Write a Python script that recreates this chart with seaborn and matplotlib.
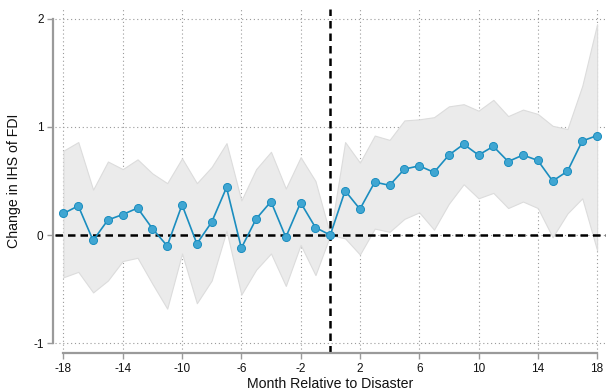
import numpy as np
import pandas as pd
import matplotlib
matplotlib.use("Agg")
import matplotlib.pyplot as plt
import seaborn as sns

# Event-study estimates: change in IHS of FDI by month relative to disaster
months = list(range(-18, 19))
coef = [0.20, 0.27, -0.05, 0.14, 0.19, 0.25, 0.06, -0.10, 0.28, -0.08,
        0.12, 0.44, -0.12, 0.15, 0.31, -0.02, 0.30, 0.07, 0.00,
        0.41, 0.24, 0.49, 0.46, 0.61, 0.64, 0.58, 0.74, 0.84, 0.74,
        0.82, 0.68, 0.74, 0.69, 0.50, 0.59, 0.87, 0.92]
ci_upper = [0.78, 0.86, 0.42, 0.68, 0.61, 0.70, 0.57, 0.48, 0.71, 0.48,
            0.63, 0.85, 0.32, 0.61, 0.77, 0.43, 0.72, 0.50, 0.00,
            0.86, 0.67, 0.92, 0.88, 1.06, 1.07, 1.09, 1.19, 1.21, 1.15,
            1.25, 1.10, 1.16, 1.12, 1.01, 0.98, 1.38, 1.95]
ci_lower = [-0.39, -0.34, -0.53, -0.42, -0.24, -0.21, -0.45, -0.68, -0.17, -0.63,
            -0.42, 0.04, -0.55, -0.32, -0.17, -0.47, -0.09, -0.37, 0.00,
            -0.03, -0.18, 0.06, 0.03, 0.15, 0.21, 0.05, 0.29, 0.47, 0.34,
            0.39, 0.25, 0.31, 0.25, -0.02, 0.20, 0.34, -0.14]
x_ticks = [-18, -14, -10, -6, -2, 2, 6, 10, 14, 18]
y_ticks = [-1, 0, 1, 2]

df = pd.DataFrame({"month": months, "coef": coef,
                   "lo": ci_lower, "hi": ci_upper})

sns.set_style("white")
plt.rcParams["font.family"] = ["Liberation Sans", "DejaVu Sans"]
plt.rcParams["axes.unicode_minus"] = False

fig = plt.figure(figsize=(6.06, 3.91), dpi=100)
ax = fig.add_axes([55 / 606, 1 - 353 / 391, 551 / 606, 344 / 391])

grey = "#9a9a9a"
line_blue = "#1a8dbf"

# confidence band
ax.fill_between(df["month"], df["lo"], df["hi"], color="#ebebeb",
                edgecolor="#dcdcdc", linewidth=0.8, zorder=1)

# dotted grid at tick positions
for xt in x_ticks:
    ax.axvline(xt, color=grey, linestyle=(0, (1, 2.5)), linewidth=0.8, zorder=0.5)
for yt in y_ticks:
    ax.axhline(yt, color=grey, linestyle=(0, (1, 2.5)), linewidth=0.8, zorder=0.5)

# reference lines
ax.axhline(0, color="black", linestyle=(0, (3, 2)), linewidth=1.8, zorder=2)
ax.axvline(0, color="black", linestyle=(0, (3, 2)), linewidth=1.8, zorder=2)

# point estimates
sns.lineplot(data=df, x="month", y="coef", ax=ax, color=line_blue,
             linewidth=1.2, marker="o", markersize=5.8,
             markerfacecolor="#40a6d2", markeredgecolor="#1a8dbf",
             markeredgewidth=0.7, zorder=3)

ax.set_xlim(-18.57, 18.6)
ax.set_ylim(-1.09, 2.09)
ax.set_xticks(x_ticks)
ax.set_yticks(y_ticks)
ax.set_xticklabels([str(v) for v in x_ticks])
ax.set_yticklabels([str(v) for v in y_ticks])

for side in ["top", "right"]:
    ax.spines[side].set_visible(False)
ax.spines["left"].set_bounds(-1, 2)
ax.spines["left"].set_position(("outward", 1.2))
ax.spines["bottom"].set_bounds(-18, 18)
for side in ["left", "bottom"]:
    ax.spines[side].set_color(grey)
    ax.spines[side].set_linewidth(1.6)

ax.tick_params(axis="both", which="major", direction="out", length=4,
               width=1.0, color=grey, labelsize=8.5, pad=3, labelcolor="#111111")
ax.tick_params(axis="x", bottom=True)
ax.tick_params(axis="y", left=True)

ax.set_xlabel("Month Relative to Disaster", fontsize=10.2, labelpad=2, color="#111111")
ax.set_ylabel("Change in IHS of FDI", fontsize=10.2, labelpad=9, color="#111111")

fig.savefig("out.png", dpi=100)
